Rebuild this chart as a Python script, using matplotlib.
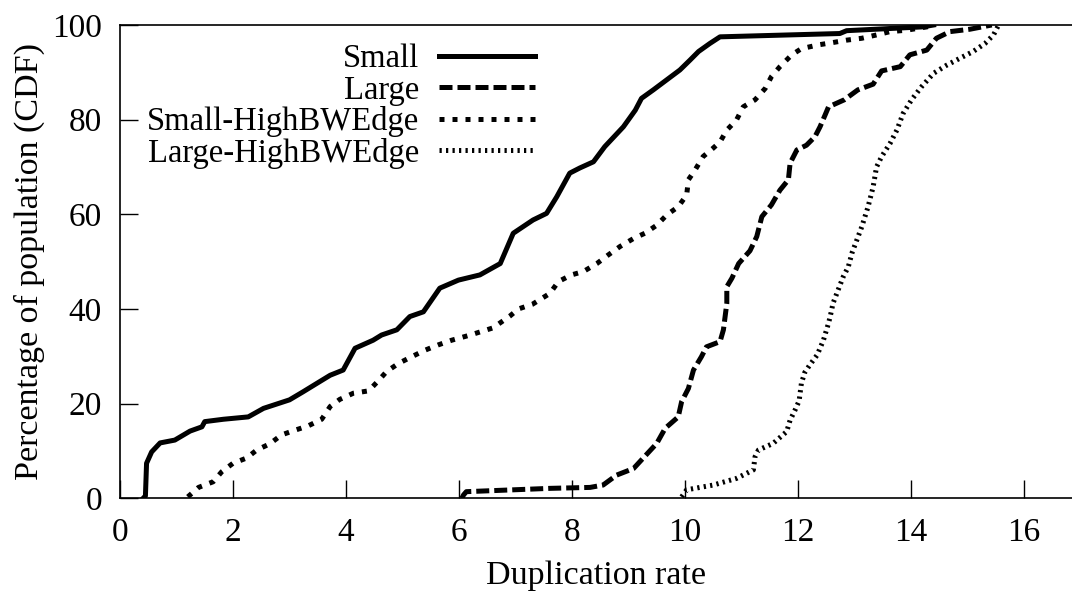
import matplotlib
matplotlib.use("Agg")
import matplotlib.pyplot as plt

plt.rcParams['font.family'] = ['Liberation Serif', 'DejaVu Serif']

labels = ["Small", "Large", "Small-HighBWEdge", "Large-HighBWEdge"]

small_x = [0.41, 0.45, 0.47, 0.56, 0.71, 0.97, 1.24, 1.45, 1.5, 1.83, 2.27, 2.54, 3.0, 3.24, 3.5,
           3.72, 3.95, 4.16, 4.48, 4.63, 4.9, 5.13, 5.37, 5.66, 5.99, 6.37, 6.73, 6.96, 7.31,
           7.55, 7.73, 7.96, 8.14, 8.38, 8.58, 8.91, 9.12, 9.23, 9.44, 9.91, 10.09, 10.24,
           10.44, 10.62, 12.74, 12.86, 14.2, 14.4]
small_y = [0.0, 0.5, 7.4, 9.8, 11.7, 12.3, 14.2, 15.1, 16.2, 16.7, 17.2, 19.0, 20.8, 22.5, 24.4,
           26.0, 27.1, 31.7, 33.4, 34.5, 35.6, 38.4, 39.4, 44.4, 46.1, 47.2, 49.6, 56.0, 58.8,
           60.2, 63.7, 68.7, 69.8, 71.1, 74.3, 78.5, 82.0, 84.5, 86.3, 90.5, 92.6, 94.4,
           96.1, 97.5, 98.2, 98.8, 99.6, 100.0]

large_x = [6.05, 6.08, 6.13, 7.61, 8.32, 8.55, 8.79, 9.09, 9.26, 9.5, 9.65, 9.88, 9.94, 10.06,
           10.15, 10.29, 10.38, 10.62, 10.68, 10.74, 10.74, 10.83, 10.95, 11.15, 11.27, 11.36,
           11.53, 11.68, 11.83, 11.86, 11.98, 12.15, 12.3, 12.39, 12.48, 12.54, 12.82, 13.06,
           13.33, 13.48, 13.81, 13.98, 14.28, 14.45, 14.69, 15.04, 15.43]
large_y = [0.0, 0.7, 1.4, 2.1, 2.3, 2.8, 4.9, 6.3, 8.5, 11.6, 14.8, 17.2, 20.4, 23.2,
           27.1, 29.9, 32.0, 33.1, 35.6, 41.2, 44.7, 46.5, 49.6, 52.3, 55.3, 59.5,
           62.0, 65.1, 67.3, 70.8, 73.6, 74.6, 76.4, 78.5, 81.0, 82.7, 84.2, 86.3,
           87.5, 90.3, 91.2, 93.7, 94.7, 97.2, 98.6, 99.1, 100.0]

shbw_x = [1.2, 1.39, 1.65, 1.8, 2.0, 2.24, 2.42, 2.65, 2.86, 3.1, 3.33, 3.57, 3.72, 3.89, 4.13,
          4.4, 4.57, 4.72, 4.93, 5.16, 5.4, 5.63, 5.87, 6.2, 6.6, 6.9, 7.05, 7.3, 7.61, 7.76,
          7.99, 8.2, 8.44, 8.64, 8.85, 9.09, 9.29, 9.5, 9.68, 9.88, 10.03, 10.06, 10.18, 10.32,
          10.5, 10.62, 10.74, 10.91, 11.03, 11.24, 11.42, 11.53, 11.68, 11.89, 12.06, 12.36,
          12.62, 12.86, 13.13, 13.39, 13.63, 13.92, 14.28, 14.4]
shbw_y = [0.3, 2.3, 3.5, 5.6, 7.4, 8.5, 10.2, 11.5, 13.4, 14.4, 15.3, 16.7, 19.4, 20.9, 22.2,
          22.7, 24.8, 26.8, 28.5, 29.9, 31.3, 32.4, 33.4, 34.5, 36.0, 38.5, 40.0, 41.0, 43.3, 45.8,
          47.2, 47.9, 49.6, 51.4, 53.2, 54.9, 56.0, 57.7, 59.9, 61.6, 64.1, 67.3, 69.4, 72.2,
          74.0, 75.3, 77.8, 79.9, 82.7, 84.2, 86.6, 89.1, 91.2, 93.7, 95.0, 95.8,
          96.3, 96.8, 97.2, 97.9, 98.6, 98.9, 99.6, 100.0]

lhbw_x = [9.94, 10.03, 10.5, 10.91, 11.21, 11.24, 11.3, 11.56, 11.8, 11.86, 11.95, 12.02, 12.06,
          12.12, 12.21, 12.34, 12.45, 12.54, 12.57, 12.62, 12.71, 12.8, 12.89, 12.96, 13.13,
          13.24, 13.33, 13.39, 13.48, 13.63, 13.75, 13.86, 14.01, 14.19, 14.4, 14.63, 14.87,
          15.1, 15.31, 15.46, 15.55]
lhbw_y = [0.3, 1.8, 2.8, 4.2, 6.0, 8.8, 10.2, 11.6, 14.1, 16.5, 18.7, 20.6, 24.3,
          26.6, 28.2, 30.3, 33.4, 37.0, 38.4, 41.2, 44.0, 46.8, 48.9, 52.0, 57.4,
          61.6, 65.8, 70.0, 72.2, 75.0, 77.8, 81.3, 84.2, 87.0, 89.8, 91.5, 93.0,
          94.4, 96.1, 97.9, 100.0]

x_ticks = [0, 2, 4, 6, 8, 10, 12, 14, 16]
y_ticks = [0, 20, 40, 60, 80, 100]

fig = plt.figure(figsize=(10.72, 5.93), dpi=100)
ax = fig.add_axes([120 / 1072, (593 - 498.3) / 593, 952 / 1072, 473.3 / 593])

lw = 3.6
ax.plot(small_x, small_y, color='black', lw=lw, solid_joinstyle='round', label=labels[0])
ax.plot(large_x, large_y, color='black', lw=lw, linestyle=(0, (2.6, 1.0)), label=labels[1])
ax.plot(shbw_x, shbw_y, color='black', lw=lw, linestyle=(0, (1.0, 1.6)), label=labels[2])
ax.plot(lhbw_x, lhbw_y, color='black', lw=lw, linestyle=(0, (0.45, 0.85)), label=labels[3])

ax.set_xlim(0, 952 / 56.5)
ax.set_ylim(0, 100)
ax.set_xticks(x_ticks)
ax.set_yticks(y_ticks)
ax.tick_params(direction='in', length=13, width=1.0, labelsize=24, top=False, right=False)
ax.tick_params(axis='x', pad=13.5)
ax.tick_params(axis='y', pad=13)
for s in ['left', 'bottom', 'top']:
    ax.spines[s].set_linewidth(1.2)
ax.spines['right'].set_visible(False)

ax.set_xlabel("Duplication rate", fontsize=24.5, labelpad=9)
ax.set_ylabel("Percentage of population (CDF)", fontsize=24.5, labelpad=5)

leg = ax.legend(loc='upper right', bbox_to_anchor=((535 - 120) / 952, 0.96),
                frameon=False, markerfirst=False, fontsize=23.5, handlelength=2.95,
                handletextpad=0.6, labelspacing=0.02, borderpad=0, borderaxespad=0)
for t in leg.get_texts():
    t.set_ha('right')

fig.savefig("out.png", dpi=100)
